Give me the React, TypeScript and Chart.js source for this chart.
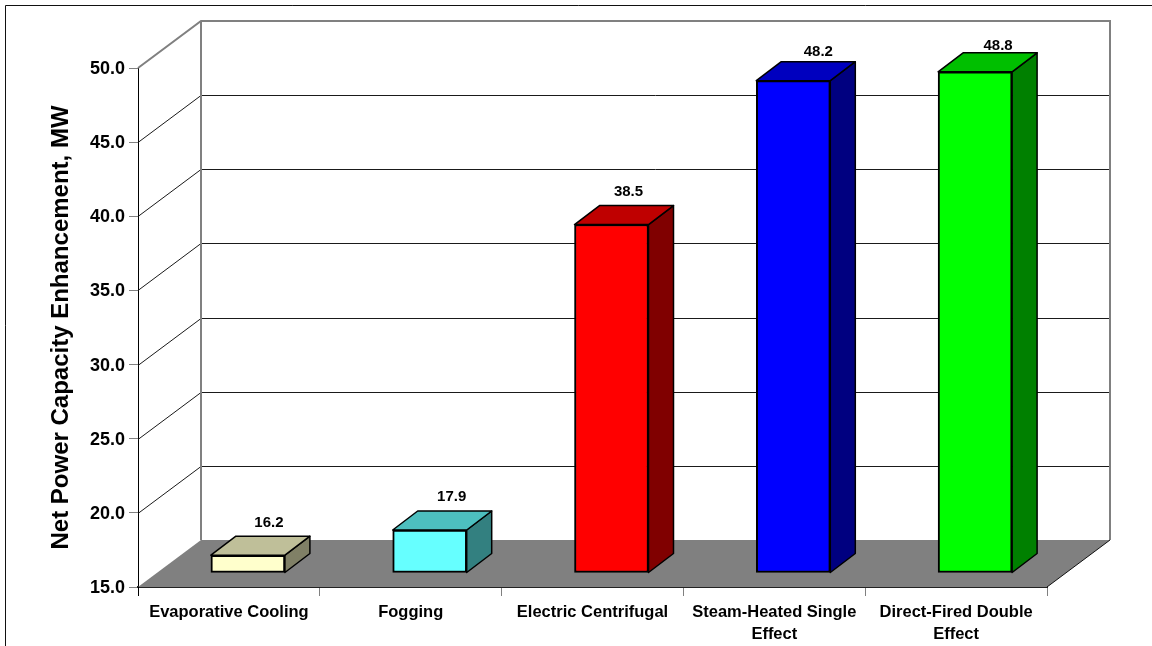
import React, { useEffect, useRef } from "react";
import { Chart, registerables } from "chart.js";

Chart.register(...registerables);

const categories = [
  "Evaporative Cooling",
  "Fogging",
  "Electric Centrifugal",
  ["Steam-Heated Single", "Effect"],
  ["Direct-Fired Double", "Effect"],
];
const capacityValues = [16.2, 17.9, 38.5, 48.2, 48.8];
const frontColors = ["#FFFFCC", "#66FFFF", "#FF0000", "#0000FF", "#00FF00"];
const topColors = ["#BFBF99", "#4DBFBF", "#BF0000", "#0000BF", "#00BF00"];
const sideColors = ["#808066", "#338080", "#800000", "#000080", "#008000"];
const labelLifts = [13, 14, 14, 10, 7];
const labelShifts = [-4, -3, -8, 0, -2];
const axisTitle = "Net Power Capacity Enhancement, MW";

const FONT = '"Liberation Sans", Arial, sans-serif';
// Oblique projection of the room and of the columns standing in it.
const ROOM_DX = 63;
const ROOM_DY = 47;
const GAP_DX = 19;
const GAP_DY = 14;
const BAR_DX = 25;
const BAR_DY = 19;

function line(ctx: CanvasRenderingContext2D, pts: number[][], color: string, width: number) {
  ctx.beginPath();
  pts.forEach(([x, y], i) => (i ? ctx.lineTo(x, y) : ctx.moveTo(x, y)));
  ctx.strokeStyle = color;
  ctx.lineWidth = width;
  ctx.stroke();
}

function face(ctx: CanvasRenderingContext2D, pts: number[][], fill: string) {
  ctx.beginPath();
  pts.forEach(([x, y], i) => (i ? ctx.lineTo(x, y) : ctx.moveTo(x, y)));
  ctx.closePath();
  ctx.fillStyle = fill;
  ctx.fill();
  ctx.strokeStyle = "#000";
  ctx.lineWidth = 1.5;
  ctx.lineJoin = "round";
  ctx.stroke();
}

const room3d = {
  id: "room3d",
  beforeDraw(chart: any) {
    const { ctx, width, height } = chart;
    ctx.save();
    ctx.fillStyle = "#fff";
    ctx.fillRect(0, 0, width, height);
    line(ctx, [[width, 5.5], [5.5, 5.5], [5.5, height]], "#111", 1);
    ctx.restore();
  },
  beforeDatasetsDraw(chart: any) {
    const { ctx, chartArea: a, scales } = chart;
    const y = scales.y;
    const bottom = y.getPixelForValue(y.min);
    const backLeft = a.left + ROOM_DX;
    const backRight = a.right + ROOM_DX;
    ctx.save();
    // Floor
    ctx.beginPath();
    ctx.moveTo(a.left, bottom);
    ctx.lineTo(backLeft, bottom - ROOM_DY);
    ctx.lineTo(backRight, bottom - ROOM_DY);
    ctx.lineTo(a.right, bottom);
    ctx.closePath();
    ctx.fillStyle = "#808080";
    ctx.fill();
    // Gridlines folded from the side wall on to the back wall
    y.ticks.forEach((t: any) => {
      if (t.value === y.min || t.value === y.max) return;
      const py = Math.round(y.getPixelForValue(t.value)) + 0.5;
      line(ctx, [[a.left, py], [backLeft, py - ROOM_DY], [backRight, py - ROOM_DY]], "#1a1a1a", 1);
    });
    const top = y.getPixelForValue(y.max);
    line(ctx, [[a.left, top], [backLeft, top - ROOM_DY], [backRight, top - ROOM_DY], [backRight, bottom - ROOM_DY]], "#808080", 2);
    line(ctx, [[backLeft, top - ROOM_DY], [backLeft, bottom - ROOM_DY]], "#808080", 2);
    line(ctx, [[a.right, bottom], [backRight, bottom - ROOM_DY]], "#111", 1);
    ctx.restore();
  },
  beforeDatasetDraw(chart: any, args: any) {
    const { ctx } = chart;
    const meta = chart.getDatasetMeta(args.index);
    ctx.save();
    ctx.translate(GAP_DX, -GAP_DY);
    meta.data.forEach((bar: any, i: number) => {
      const l = bar.x - bar.width / 2;
      const r = bar.x + bar.width / 2;
      face(ctx, [[r, bar.y], [r + BAR_DX, bar.y - BAR_DY], [r + BAR_DX, bar.base - BAR_DY], [r, bar.base]], sideColors[i]);
      face(ctx, [[l, bar.y], [l + BAR_DX, bar.y - BAR_DY], [r + BAR_DX, bar.y - BAR_DY], [r, bar.y]], topColors[i]);
    });
  },
  afterDatasetDraw(chart: any) {
    chart.ctx.restore();
  },
  afterDatasetsDraw(chart: any) {
    const { ctx } = chart;
    const meta = chart.getDatasetMeta(0);
    ctx.save();
    ctx.font = `bold 15px ${FONT}`;
    ctx.fillStyle = "#000";
    ctx.textAlign = "center";
    ctx.textBaseline = "middle";
    meta.data.forEach((bar: any, i: number) => {
      ctx.fillText(
        capacityValues[i].toFixed(1),
        bar.x + GAP_DX + BAR_DX + labelShifts[i],
        bar.y - GAP_DY - BAR_DY - labelLifts[i]
      );
    });
    ctx.restore();
  },
};

export default function App() {
  const canvasRef = useRef<HTMLCanvasElement>(null);

  useEffect(() => {
    const chart = new Chart(canvasRef.current as HTMLCanvasElement, {
      type: "bar",
      data: {
        labels: categories as any,
        datasets: [
          {
            label: "Net Power Capacity Enhancement, MW",
            data: capacityValues,
            base: 15,
            backgroundColor: frontColors,
            borderColor: "#000",
            borderWidth: 2,
            borderSkipped: false,
            barThickness: 74,
            clip: false as any,
          },
        ],
      },
      plugins: [room3d],
      options: {
        animation: false,
        responsive: false,
        events: [],
        layout: { padding: { left: 0, top: 68, right: 105, bottom: 0 } },
        plugins: { legend: { display: false }, tooltip: { enabled: false }, title: { display: false } },
        scales: {
          x: {
            type: "category",
            afterFit: (s: any) => {
              s.height = 59;
            },
            grid: {
              drawOnChartArea: false,
              tickLength: 9,
              color: (c: any) => (c.index === 0 ? "#000" : "#808080"),
            },
            border: { color: "#222", width: 2 },
            ticks: {
              color: "#000",
              padding: 6,
              maxRotation: 0,
              autoSkip: false,
              font: { family: FONT, weight: "bold", size: 16.5, lineHeight: 1.3 },
            },
          },
          y: {
            type: "linear",
            min: 15,
            max: 50,
            afterFit: (s: any) => {
              s.width = 138;
            },
            grid: { drawOnChartArea: false, tickLength: 9, color: "#808080" },
            border: { color: "#000", width: 1 },
            ticks: {
              stepSize: 5,
              color: "#000",
              padding: 4,
              labelOffset: 1,
              callback: (v: any) => Number(v).toFixed(1),
              font: { family: FONT, weight: "bold", size: 18 },
            },
            title: {
              display: true,
              text: axisTitle,
              color: "#000",
              padding: { top: 47, bottom: 0 },
              font: { family: FONT, weight: "bold", size: 24 },
            },
          },
        },
      },
    } as any);
    return () => chart.destroy();
  }, []);

  return (
    <div style={{ position: "fixed", left: 0, top: 0, width: 1152, height: 646, background: "#fff" }}>
      <canvas ref={canvasRef} width={1152} height={646} style={{ display: "block" }} />
    </div>
  );
}
